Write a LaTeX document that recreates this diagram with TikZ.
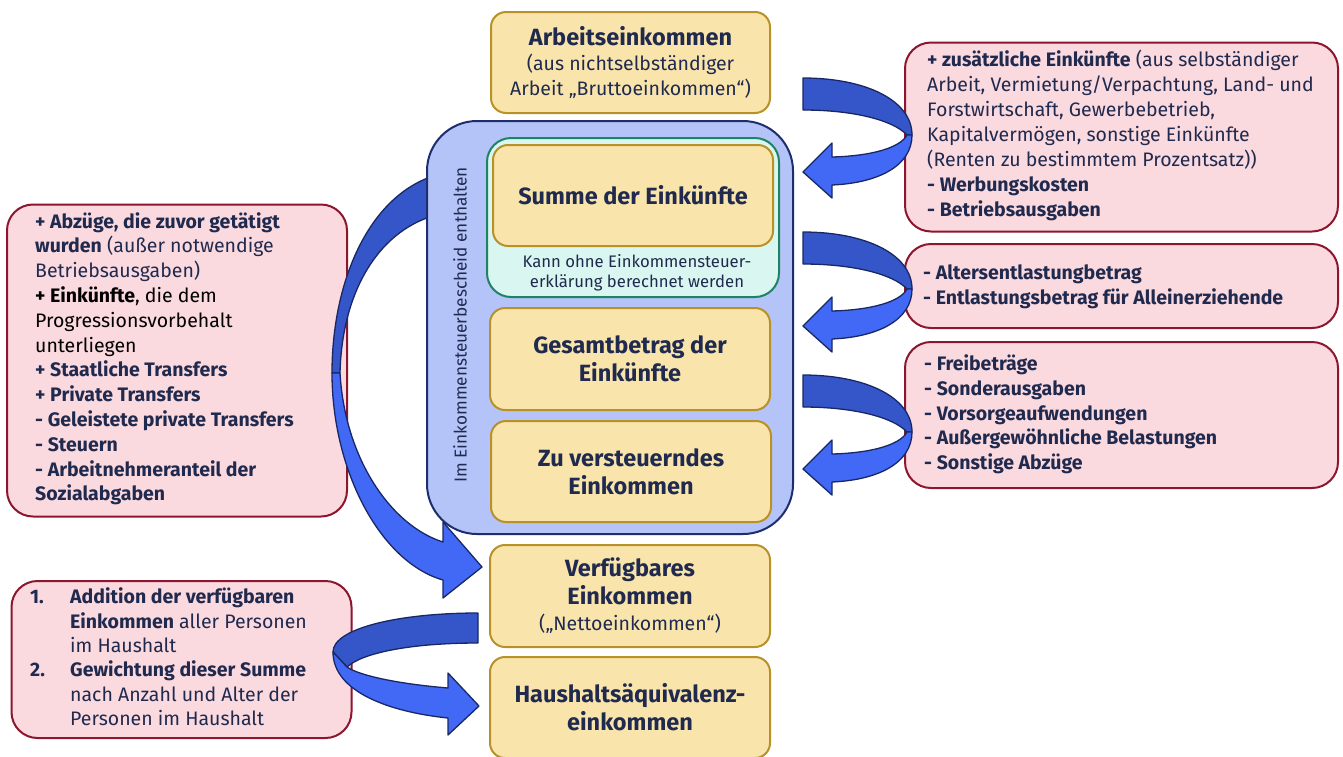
\documentclass[tikz,border=0pt]{standalone}
\usepackage{fontspec}
\setmainfont{Fira Sans}
\definecolor{yfill}{RGB}{249,229,172}
\definecolor{ybord}{RGB}{184,146,40}
\definecolor{pfill}{RGB}{250,217,223}
\definecolor{pbord}{RGB}{140,22,45}
\definecolor{cfill}{RGB}{180,196,248}
\definecolor{cbord}{RGB}{30,45,110}
\definecolor{tfill}{RGB}{218,246,240}
\definecolor{tbord}{RGB}{30,130,100}
\definecolor{tnavy}{RGB}{32,42,78}
\definecolor{adark}{RGB}{52,86,200}
\definecolor{alight}{RGB}{65,105,245}
\definecolor{anavy}{RGB}{25,40,100}
\tikzset{
  ybox/.style={draw=ybord, fill=yfill, line width=2pt, rounded corners=15pt, inner sep=0pt, text=tnavy, align=center},
  pbox/.style={draw=pbord, fill=pfill, line width=2pt, rounded corners=26pt, inner sep=0pt},
  ardark/.style={fill=adark, draw=anavy, line width=1.3pt, line join=round},
  arlight/.style={fill=alight, draw=anavy, line width=1.3pt, line join=round},
  bodytxt/.style={inner sep=0pt, anchor=north west, align=left, text=tnavy, font=\fontsize{19.5}{25}\selectfont},
  headfont/.style={font=\bfseries\fontsize{23.5}{28}\selectfont},
  rarrow/.pic={
    \draw[ardark] (0,0) .. controls (62,0) and (109,22) .. (109,57) -- (104,57) .. controls (90,42) and (50,32) .. (0,32) -- cycle;
    \draw[arlight] (109,57) .. controls (109,88) and (75,105) .. (29,107) -- (29,120) -- (0,94) -- (29,65) -- (29,79) .. controls (68,78) and (97,70) .. (104,57) -- cycle;
  }
}
\begin{document}
\begin{tikzpicture}[x=1pt,y=-1pt]
\clip (0,0) rectangle (1343,756);
\fill[white] (0,0) rectangle (1343,756);

% pink boxes
\node[pbox, minimum width=340pt, minimum height=312pt] (l1) at (177,360.5) {};
\node[pbox, minimum width=340pt, minimum height=157pt] (l2) at (181.5,659.5) {};
\node[pbox, minimum width=433pt, minimum height=189pt] (r1) at (1121.5,137) {};
\node[pbox, minimum width=433pt, minimum height=84pt] (r2) at (1121.5,286) {};
\node[pbox, minimum width=433pt, minimum height=146pt] (r3) at (1121.5,415) {};

% texts of pink boxes
\node[bodytxt] (r1t) at (927,48.5) {\strut\textbf{+ zusätzliche Einkünfte} (aus selbständiger\\
Arbeit, Vermietung/Verpachtung, Land- und\\
Forstwirtschaft, Gewerbebetrieb,\\
Kapitalvermögen, sonstige Einkünfte\\
(Renten zu bestimmtem Prozentsatz))\\
\textbf{- Werbungskosten}\\
\textbf{- Betriebsausgaben}};
\node[bodytxt, font=\bfseries\fontsize{19.5}{25}\selectfont] (r2t) at (923,261.5) {\strut- Altersentlastungbetrag\\
- Entlastungsbetrag für Alleinerziehende};
\node[bodytxt, font=\bfseries\fontsize{19.5}{24.6}\selectfont] (r3t) at (924,353.5) {\strut- Freibeträge\\
- Sonderausgaben\\
- Vorsorgeaufwendungen\\
- Außergewöhnliche Belastungen\\
- Sonstige Abzüge};
\node[bodytxt, font=\fontsize{19.5}{24.8}\selectfont] (l1t) at (35,210.5) {\strut\textbf{+ Abzüge, die zuvor getätigt}\\
\textbf{wurden} (außer notwendige\\
Betriebsausgaben)\\
\textcolor{black}{\textbf{+ Einkünfte}, die dem}\\
\textcolor{black}{Progressionsvorbehalt}\\
\textcolor{black}{unterliegen}\\
\textbf{+ Staatliche Transfers}\\
\textbf{+ Private Transfers}\\
\textbf{- Geleistete private Transfers}\\
\textbf{- Steuern}\\
\textbf{- Arbeitnehmeranteil der}\\
\textbf{Sozialabgaben}};
\node[bodytxt, font=\fontsize{19.5}{24.4}\selectfont] (l2t) at (30,586.5) {\strut\makebox[40pt][l]{\textbf{1.}}\textbf{Addition der verfügbaren}\\
\hspace*{40pt}\textbf{Einkommen} aller Personen\\
\hspace*{40pt}im Haushalt\\
\makebox[40pt][l]{\textbf{2.}}\textbf{Gewichtung dieser Summe}\\
\hspace*{40pt}nach Anzahl und Alter der\\
\hspace*{40pt}Personen im Haushalt};

% right curved arrows
\pic at (803,78) {rarrow};
\pic at (803,232) {rarrow};
\pic at (803,375) {rarrow};

% big left curved arrow
\draw[ardark] (440,174) .. controls (370,192) and (332,280) .. (332,373) -- (340,373) .. controls (342,290) and (380,228) .. (440,214) -- cycle;
\draw[arlight] (332,373) .. controls (332,470) and (380,562) .. (443,580) -- (443,598) -- (482,567) -- (443,522) -- (443,542) .. controls (392,526) and (345,460) .. (340,373) -- cycle;

% bottom-left curved arrow
\draw[ardark] (478,613) .. controls (400,613) and (333,628) .. (333,652) -- (347,667) .. controls (362,653) and (410,643) .. (478,643) -- cycle;
\draw[arlight] (333,652) .. controls (333,692) and (390,712) .. (448,718) -- (448,735) -- (479,706) -- (448,673) -- (448,688) .. controls (400,684) and (360,676) .. (347,667) -- cycle;

% container
\node[draw=cbord, fill=cfill, line width=2pt, rounded corners=50pt, minimum width=366pt, minimum height=413pt, inner sep=0pt] (cont) at (610,327.5) {};
\node[rotate=90, text=tnavy, font=\fontsize{17.2}{18}\selectfont, inner sep=0pt] (contl) at (460,325) {Im Einkommensteuerbescheid enthalten};
\node[draw=tbord, fill=tfill, line width=2pt, rounded corners=24pt, minimum width=292pt, minimum height=159pt, inner sep=0pt] (teal) at (633,217.5) {};
\node[text=tnavy, align=center, font=\fontsize{16.7}{20}\selectfont, inner sep=0pt] (tealt) at (637,273) {Kann ohne Einkommensteuer-\\erklärung berechnet werden};

% yellow boxes
\node[ybox, minimum width=279pt, minimum height=101pt, font=\fontsize{19.5}{25}\selectfont] (arb) at (630.5,62.5) {{\bfseries\fontsize{23.5}{25}\selectfont Arbeitseinkommen}\\(aus nichtselbständiger\\Arbeit „Bruttoeinkommen“)};
\node[ybox, minimum width=280pt, minimum height=101pt, headfont] (summe) at (633,195.5) {Summe der Einkünfte};
\node[ybox, minimum width=280pt, minimum height=102pt, headfont] (gesamt) at (630,359) {Gesamtbetrag der\\Einkünfte};
\node[ybox, minimum width=280pt, minimum height=101pt, headfont] (zuv) at (631,471.5) {Zu versteuerndes\\Einkommen};
\node[ybox, minimum width=280pt, minimum height=102pt, headfont] (verf) at (630,596) {Verfügbares\\Einkommen\\[-2pt]{\mdseries\fontsize{19.5}{25}\selectfont („Nettoeinkommen“)}};
\node[ybox, minimum width=280pt, minimum height=101pt, headfont] (haus) at (630,707.5) {Haushaltsäquivalenz-\\einkommen};
\end{tikzpicture}
\end{document}
